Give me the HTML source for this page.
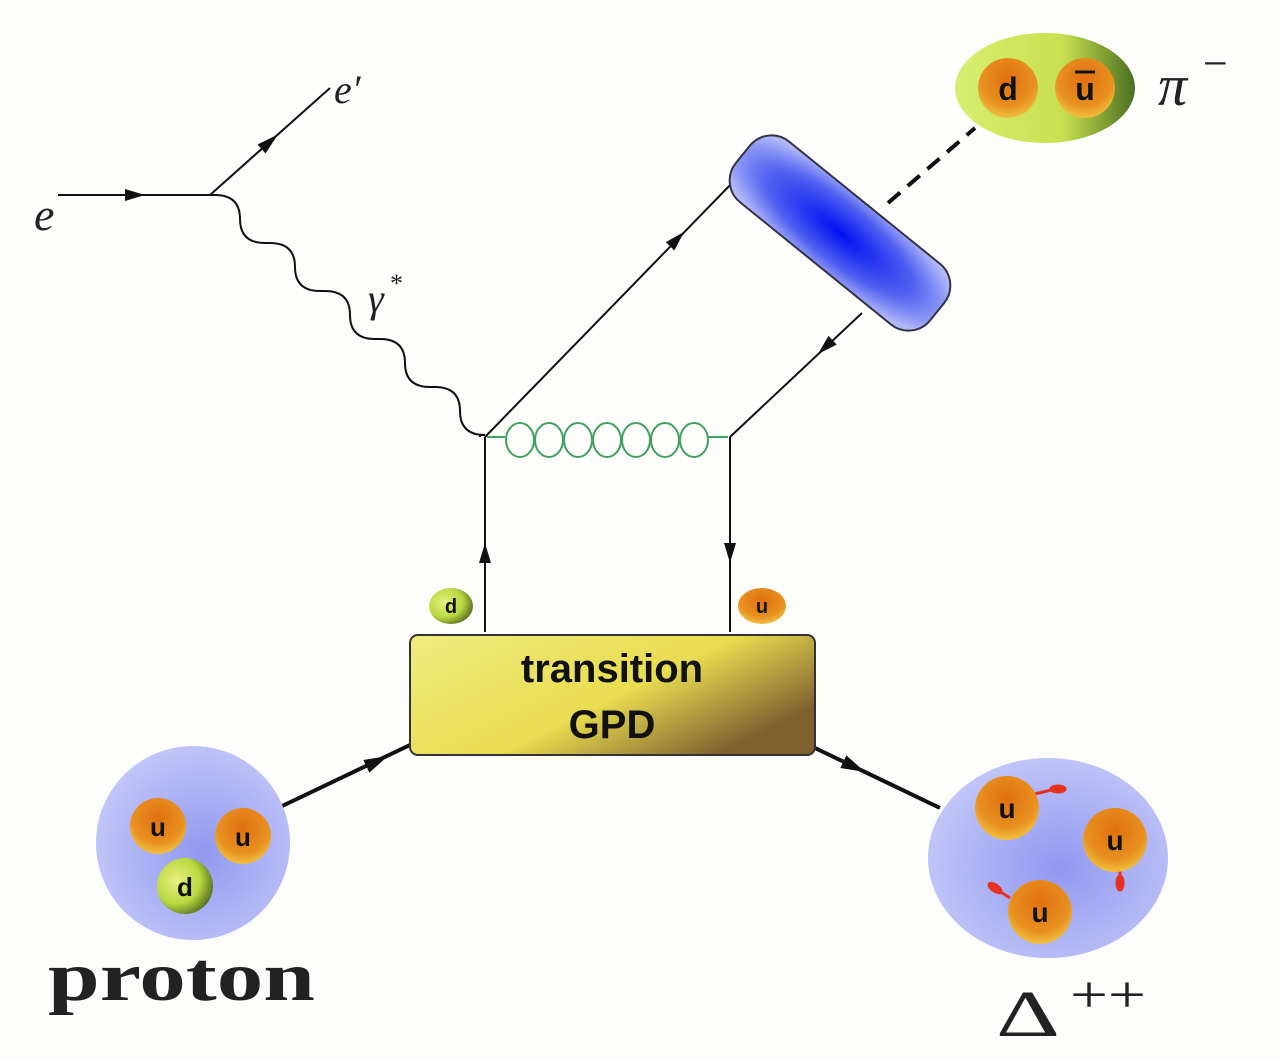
<!DOCTYPE html>
<html><head><meta charset="utf-8"><style>html,body{margin:0;padding:0;background:#fdfdfc}svg{display:block}</style></head>
<body>
<svg width="1280" height="1059" viewBox="0 0 1280 1059" xmlns="http://www.w3.org/2000/svg">
<defs>
<radialGradient id="blue" cx="50%" cy="50%" r="60%"><stop offset="0" stop-color="#0010f0"/><stop offset="0.6" stop-color="#5060f0"/><stop offset="1" stop-color="#b0b8f8"/></radialGradient>
<linearGradient id="pion" x1="0" y1="0" x2="1" y2="0"><stop offset="0" stop-color="#d8ee70"/><stop offset="0.6" stop-color="#c8e050"/><stop offset="1" stop-color="#4a7020"/></linearGradient>
<radialGradient id="orange" cx="50%" cy="35%" r="65%"><stop offset="0" stop-color="#e07010"/><stop offset="0.7" stop-color="#e89020"/><stop offset="1" stop-color="#f0c040"/></radialGradient>
<radialGradient id="green" cx="35%" cy="40%" r="70%"><stop offset="0" stop-color="#e8f080"/><stop offset="0.6" stop-color="#b8d840"/><stop offset="1" stop-color="#506820"/></radialGradient>
<linearGradient id="gpd" x1="0" y1="0" x2="1" y2="0.6"><stop offset="0" stop-color="#f0ec80"/><stop offset="0.6" stop-color="#e8dc50"/><stop offset="1" stop-color="#806030"/></linearGradient>
<radialGradient id="lav" cx="55%" cy="55%" r="60%"><stop offset="0" stop-color="#9098f0"/><stop offset="1" stop-color="#c4c8f8"/></radialGradient>
</defs>
<g stroke="#111" fill="none" stroke-width="2">
<line x1="58" y1="195" x2="210" y2="195"/>
<line x1="210" y1="195" x2="330" y2="88"/>
<path d="M210,195 h5 q25,0 25,24 q0,24 25,24 h5 q25,0 25,24 q0,24 25,24 h5 q25,0 25,24 q0,24 25,24 h5 q25,0 25,24 q0,24 25,24 h5 q25,0 25,24 q0,24 25,24 h-5 l0,2"/>
<line x1="485" y1="437" x2="735" y2="180"/>
<line x1="862" y1="313" x2="730" y2="437"/>
<line x1="485" y1="437" x2="485" y2="632"/>
<line x1="730" y1="437" x2="730" y2="632"/>
<line x1="888" y1="203" x2="975" y2="128" stroke-width="4" stroke-dasharray="16,10"/>
<line x1="278" y1="808" x2="410" y2="745" stroke-width="4"/>
<line x1="815" y1="748" x2="940" y2="808" stroke-width="4"/>
</g>
<g fill="#111">
<polygon points="0,0 -20,-6 -20,6" transform="translate(145 195)"/>
<polygon points="4,0 -18,-6 -18,6" transform="translate(275 137) rotate(-41.7)"/>
<polygon points="0,0 -20,-6 -20,6" transform="translate(684 232) rotate(-45.8)"/>
<polygon points="0,0 -20,-6 -20,6" transform="translate(818 354) rotate(136.8)"/>
<polygon points="0,0 -20,-6 -20,6" transform="translate(485 543) rotate(-90)"/>
<polygon points="0,0 -20,-6 -20,6" transform="translate(730 563) rotate(90)"/>
<polygon points="0,0 -24,-7 -24,7" transform="translate(388 756) rotate(-25.5)"/>
<polygon points="0,0 -24,-7 -24,7" transform="translate(865 772) rotate(25.6)"/>
</g>
<g stroke="#40a060" stroke-width="2" fill="none">
<line x1="487" y1="437" x2="505" y2="437"/>
<ellipse cx="520" cy="440" rx="14" ry="17"/>
<ellipse cx="549" cy="440" rx="14" ry="17"/>
<ellipse cx="578" cy="440" rx="14" ry="17"/>
<ellipse cx="607" cy="440" rx="14" ry="17"/>
<ellipse cx="636" cy="440" rx="14" ry="17"/>
<ellipse cx="665" cy="440" rx="14" ry="17"/>
<ellipse cx="694" cy="440" rx="14" ry="17"/>
<line x1="708" y1="437" x2="728" y2="437"/>
</g>
<rect x="715" y="194" width="250" height="78" rx="28" transform="rotate(39 840 233)" fill="url(#blue)" stroke="#334" stroke-width="2"/>
<ellipse cx="1045" cy="88" rx="90" ry="55" fill="url(#pion)"/>
<circle cx="1008" cy="88" r="30" fill="url(#orange)"/>
<circle cx="1085" cy="88" r="30" fill="url(#orange)"/>
<rect x="410" y="635" width="405" height="120" rx="8" fill="url(#gpd)" stroke="#333" stroke-width="2"/>
<ellipse cx="451" cy="606" rx="22" ry="18" fill="url(#green)"/>
<ellipse cx="762" cy="606" rx="24" ry="18" fill="url(#orange)"/>
<circle cx="193" cy="843" r="97" fill="url(#lav)"/>
<circle cx="158" cy="826" r="28" fill="url(#orange)"/>
<circle cx="243" cy="836" r="28" fill="url(#orange)"/>
<circle cx="185" cy="886" r="28" fill="url(#green)"/>
<ellipse cx="1048" cy="858" rx="120" ry="100" fill="url(#lav)"/>
<g fill="#e83020" stroke="#e83020" stroke-width="3">
<line x1="1030" y1="795" x2="1060" y2="788"/><ellipse cx="1058" cy="789" rx="7" ry="3"/>
<line x1="1120" y1="866" x2="1120" y2="885"/><ellipse cx="1120" cy="883" rx="3" ry="7"/>
<line x1="1010" y1="898" x2="993" y2="887"/><ellipse cx="995" cy="888" rx="7" ry="3" transform="rotate(35 995 888)"/>
</g>
<circle cx="1007" cy="808" r="32" fill="url(#orange)"/>
<circle cx="1115" cy="840" r="32" fill="url(#orange)"/>
<circle cx="1040" cy="912" r="32" fill="url(#orange)"/>
<g font-family="Liberation Sans, sans-serif" font-weight="bold" fill="#111" text-anchor="middle">
<text x="1008" y="100" font-size="32">d</text>
<text x="1085" y="100" font-size="32">u</text>
<line x1="1075" y1="72" x2="1095" y2="72" stroke="#111" stroke-width="3"/>
<text x="451" y="613" font-size="20">d</text>
<text x="762" y="613" font-size="20">u</text>
<text x="612" y="682" font-size="40">transition</text>
<text x="612" y="738" font-size="40">GPD</text>
<text x="158" y="836" font-size="26">u</text>
<text x="243" y="846" font-size="26">u</text>
<text x="185" y="896" font-size="26">d</text>
<text x="1007" y="818" font-size="28">u</text>
<text x="1115" y="850" font-size="28">u</text>
<text x="1040" y="922" font-size="28">u</text>
</g>
<g font-family="Liberation Serif, serif" fill="#222">
<text x="34" y="230" font-size="46" font-style="italic">e</text>
<text x="334" y="103" font-size="40" font-style="italic">e′</text>
<text x="368" y="312" font-size="40" font-style="italic">γ</text>
<text x="390" y="292" font-size="26">*</text>
<text x="1158" y="105" font-size="58" font-style="italic">π</text>
<text x="1203" y="78" font-size="44">−</text>
<text x="48" y="1000" font-size="70" font-weight="bold" textLength="267" lengthAdjust="spacingAndGlyphs">proton</text>
<text x="996" y="1036" font-size="66" textLength="64" lengthAdjust="spacingAndGlyphs">Δ</text>
<text x="1070" y="1012" font-size="52" textLength="76" lengthAdjust="spacingAndGlyphs">++</text>
</g>
</svg>
</body></html>
